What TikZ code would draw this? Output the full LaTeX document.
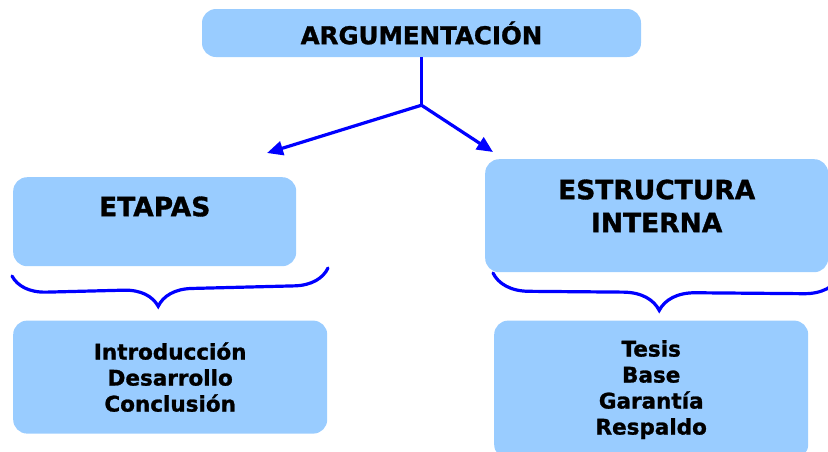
\documentclass[tikz,border=0pt]{standalone}
\usepackage{fontspec}
\setmainfont{DejaVu Sans}[BoldFeatures={FakeBold=1.2}]
\usepackage{tikz}
\usetikzlibrary{positioning, arrows.meta, decorations.pathreplacing}
\definecolor{boxblue}{RGB}{153,204,255}
\definecolor{linkblue}{RGB}{0,0,255}

\begin{document}
\begin{tikzpicture}[
            x=1pt, y=-1pt,
            block/.style={rectangle, fill=boxblue, rounded corners=14pt, inner sep=0pt, align=center},
            link/.style={line width=3.2pt, draw=linkblue},
            arrow/.style={link, -{Triangle[length=16pt, width=14pt]}},
            curly/.style={link, line cap=round, decorate, decoration={brace, mirror, amplitude=#1}},
            title/.style={font=\bfseries\fontsize{24.5}{28}\selectfont},
            head/.style={font=\bfseries\fontsize{26.5}{33}\selectfont},
            items/.style={font=\bfseries\fontsize{21.5}{26}\selectfont}
        ]
        \useasboundingbox (0,0) rectangle (828,451);
        % Title
        \node[block, title, minimum width=439pt, minimum height=48pt] (arg) at (421.5,33) {ARGUMENTACIÓN};
        % Second level
        \node[block, head, anchor=north west, minimum width=283pt, text height=39pt, text depth=50pt] (etapas) at (13,177) {ETAPAS};
        \node[block, head, anchor=north west, minimum width=343pt, text height=73pt, text depth=40pt] (estructura) at (485,159) {ESTRUCTURA\\INTERNA};
        % Lists
        \node[block, items, below right=54pt and 0pt of etapas.south west, minimum width=314pt, minimum height=113pt] (etapas_list) {Introducción\\Desarrollo\\Conclusión};
        \node[block, items, below right=48pt and 9pt of estructura.south west, minimum width=314pt, minimum height=138pt] (estructura_list) {Tesis\\Base\\Garantía\\Respaldo};
        % Arrows
        \coordinate[below=48pt of arg.south] (fork);
        \coordinate (tip_etapas) at (267,153);
        \coordinate (tip_estructura) at (493,152);
        \draw[link] (arg.south) -- (fork);
        \draw[arrow] (fork) -- (tip_etapas);
        \draw[arrow] (fork) -- (tip_estructura);
        % Braces
        \coordinate (etapas_l) at (12,276);
        \coordinate (etapas_r) at (328,268);
        \coordinate (estructura_l) at (493,273);
        \coordinate (estructura_r) at (840,276);
        \draw[curly=34pt, decoration={aspect=0.46}] (etapas_l) -- (etapas_r);
        \draw[curly=36pt, decoration={aspect=0.48}] (estructura_l) -- (estructura_r);
    \end{tikzpicture}
\end{document}
